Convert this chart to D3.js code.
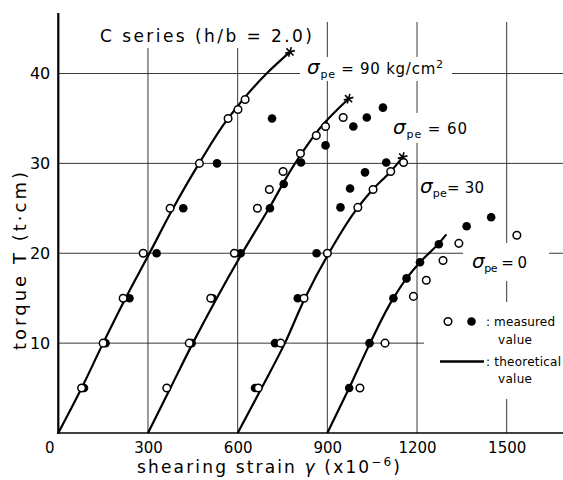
<!DOCTYPE html>
<html>
<head>
<meta charset="utf-8">
<script src="https://cdn.jsdelivr.net/npm/d3@7"></script>
<style>
body { margin: 0; background: #fff; }
svg { display: block; font-family: "DejaVu Sans", sans-serif; }
</style>
</head>
<body>
<div id="chart"></div>
<script>
const width = 563;
const height = 480;

// theoretical curves, [shearing strain (x10^-6), torque (t·cm)]
const theory90 = [[0, 0], [78, 5], [150, 10], [225, 15], [305, 20], [384, 25], [471, 30], [568, 35], [697, 40], [775, 42.4]];
const theory60 = [[300, 0], [375, 5], [450, 10], [530, 15], [615, 20], [705, 25], [792, 30], [890, 34.5], [971, 37.2]];
const theory30 = [[600, 0], [680, 5], [758, 10], [825, 15], [905, 20], [1000, 25], [1052, 27.1], [1112, 29.1], [1152, 30.7]];
const theory0 = [[900, 0], [973, 5], [1043, 10], [1121, 15], [1165, 17.2], [1210, 19], [1273, 21.1], [1298, 22.1]];

// measured values (open / filled circles)
const open90 = [[78, 5], [150, 10], [217, 15], [284, 20], [374, 25], [472, 30], [568, 35], [601, 36], [625, 37.1]];
const filled90 = [[86, 5], [158, 10], [238, 15], [329, 20], [418, 25], [531, 30], [715, 35]];
const open60 = [[363, 5], [438, 10], [510, 15], [589, 20], [666, 25], [706, 27.1], [752, 29.1], [810, 31.1], [863, 33.1], [894, 34.1], [953, 35.1]];
const filled60 = [[446, 10], [516, 15], [610, 20], [708, 25], [754, 27.7], [812, 30.1], [894, 32], [987, 34.1], [1032, 35.1], [1086, 36.2]];
const open30 = [[669, 5], [744, 10], [822, 15], [900, 20], [1002, 25.1], [1053, 27.1], [1112, 29.1], [1155, 30.1]];
const filled30 = [[658, 5], [725, 10], [801, 15], [864, 20], [944, 25.1], [976, 27.2], [1026, 29], [1097, 30.1]];
const open0 = [[1009, 5], [1093, 10], [1188, 15.2], [1231, 17], [1287, 19.2], [1340, 21.1], [1534, 22]];
const filled0 = [[973, 5], [1041, 10], [1121, 15], [1165, 17.2], [1210, 19], [1273, 21], [1366, 23], [1448, 24]];

const seriesValues = ["90", "60", "30", "0"];
const xTicks = [0, 300, 600, 900, 1200, 1500];
const yTicks = [10, 20, 30, 40];

const svg = d3.select("#chart")
    .append("svg")
    .attr("width", width)
    .attr("height", height);

const x = d3.scaleLinear().domain([0, 1500]).range([58.3, 506.7]);
const y = d3.scaleLinear().domain([0, 40]).range([433, 73.5]);

// grid
const grid = svg.append("g").attr("stroke", "#222").attr("stroke-width", 0.9);
grid.selectAll("line.h")
    .data(yTicks)
    .enter().append("line")
    .attr("class", "h")
    .attr("x1", x(0)).attr("x2", width)
    .attr("y1", d => y(d)).attr("y2", d => y(d));
grid.selectAll("line.v")
    .data(xTicks.slice(1))
    .enter().append("line")
    .attr("class", "v")
    .attr("x1", d => x(d)).attr("x2", d => x(d))
    .attr("y1", y(0)).attr("y2", 22);

// white gaps in the grid behind the labels
const gaps = [[95, 20, 226, 28], [300, 57, 152, 24], [386, 113, 86, 30], [463, 243, 86, 38], [424, 302, 139, 97]];
svg.append("g").selectAll("rect")
    .data(gaps)
    .enter().append("rect")
    .attr("x", d => d[0]).attr("y", d => d[1])
    .attr("width", d => d[2]).attr("height", d => d[3])
    .attr("fill", "#fff");

// axes lines
svg.append("line")
    .attr("x1", x(0)).attr("x2", x(0))
    .attr("y1", y(0) + 1).attr("y2", 13)
    .attr("stroke", "#000").attr("stroke-width", 2.2);
svg.append("line")
    .attr("x1", x(0) - 1).attr("x2", width)
    .attr("y1", y(0)).attr("y2", y(0))
    .attr("stroke", "#000").attr("stroke-width", 1.6);

// tick labels
const xAxis = svg.append("g")
    .attr("transform", `translate(0,${y(0)})`)
    .call(d3.axisBottom(x).tickValues(xTicks).tickFormat(d3.format("d")).tickSize(0).tickPadding(9));
xAxis.select(".domain").remove();
xAxis.selectAll("text")
    .attr("font-size", 15).attr("font-family", "DejaVu Sans").attr("fill", "#000")
    .attr("dx", d => d === 0 ? -9 : 0);

const yAxis = svg.append("g")
    .attr("transform", `translate(${x(0)},0)`)
    .call(d3.axisLeft(y).tickValues(yTicks).tickSize(0).tickPadding(8));
yAxis.select(".domain").remove();
yAxis.selectAll("text")
    .attr("font-size", 16).attr("font-family", "DejaVu Sans").attr("fill", "#000");

// theoretical curves
const line = d3.line()
    .x(d => x(d[0]))
    .y(d => y(d[1]))
    .curve(d3.curveMonotoneY);

const curves = [theory90, theory60, theory30, theory0];
svg.append("g").selectAll("path")
    .data(curves)
    .enter().append("path")
    .attr("d", line)
    .attr("fill", "none")
    .attr("stroke", "#000")
    .attr("stroke-width", 2.2);

// end marks of the curves
const star = d3.symbol().type(d3.symbolAsterisk || d3.symbolCross).size(70);
svg.append("g").selectAll("path")
    .data(curves.slice(0, 3).map(c => c[c.length - 1]))
    .enter().append("path")
    .attr("d", star)
    .attr("transform", d => `translate(${x(d[0])},${y(d[1])}) rotate(15)`)
    .attr("fill", "none")
    .attr("stroke", "#000")
    .attr("stroke-width", 1.6);

// measured points
const filledAll = [].concat(filled90, filled60, filled30, filled0);
const openAll = [].concat(open90, open60, open30, open0);
svg.append("g").selectAll("circle")
    .data(filledAll)
    .enter().append("circle")
    .attr("cx", d => x(d[0])).attr("cy", d => y(d[1]))
    .attr("r", 4.3)
    .attr("fill", "#000");
svg.append("g").selectAll("circle")
    .data(openAll)
    .enter().append("circle")
    .attr("cx", d => x(d[0])).attr("cy", d => y(d[1]))
    .attr("r", 3.8)
    .attr("fill", "#fff")
    .attr("stroke", "#000")
    .attr("stroke-width", 1.5);

// series labels
const labelPos = [[307, 74, 136], [393, 134, 74], [420, 193, 64], [472, 268, 55]];
seriesValues.forEach((v, i) => {
    const [lx, ly, lw] = labelPos[i];
    const t = svg.append("text")
        .attr("x", lx).attr("y", ly)
        .attr("font-size", 15)
        .attr("textLength", lw)
        .attr("lengthAdjust", "spacing");
    t.append("tspan").attr("font-size", 20).attr("font-style", "italic").text("σ");
    t.append("tspan").attr("font-size", 11).attr("dy", 4).text("pe");
    t.append("tspan").attr("dy", -4).text((i === 2 ? "= " : " = ") + v + (i === 0 ? " kg/cm" : ""));
    if (i === 0) t.append("tspan").attr("font-size", 11).attr("dy", -6).text("2");
});

// title
svg.append("text")
    .attr("x", 100).attr("y", 42)
    .attr("font-size", 17)
    .attr("textLength", 212)
    .attr("lengthAdjust", "spacing")
    .text("C series (h/b = 2.0)");

// axis titles
const xt = svg.append("text")
    .attr("x", 137).attr("y", 473)
    .attr("font-size", 17)
    .attr("textLength", 263)
    .attr("lengthAdjust", "spacing");
xt.append("tspan").text("shearing strain ");
xt.append("tspan").attr("font-style", "italic").text("γ");
xt.append("tspan").text(" (x10");
xt.append("tspan").attr("font-size", 12).attr("dy", -7).text("−6");
xt.append("tspan").attr("dy", 7).text(")");

svg.append("text")
    .attr("transform", "translate(25.5,350) rotate(-90)")
    .attr("font-size", 18)
    .attr("textLength", 178)
    .attr("lengthAdjust", "spacing")
    .text("torque T (t·cm)");

// legend
const legend = svg.append("g").attr("font-size", 12);
legend.append("circle").attr("cx", 448).attr("cy", 321.5).attr("r", 3.8)
    .attr("fill", "#fff").attr("stroke", "#000").attr("stroke-width", 1.5);
legend.append("circle").attr("cx", 471.5).attr("cy", 321.5).attr("r", 4.3).attr("fill", "#000");
legend.append("text").attr("x", 486).attr("y", 326)
    .attr("textLength", 69).attr("lengthAdjust", "spacing").text(": measured");
legend.append("text").attr("x", 498).attr("y", 344)
    .attr("textLength", 34).attr("lengthAdjust", "spacing").text("value");
legend.append("line").attr("x1", 440).attr("x2", 484).attr("y1", 361.5).attr("y2", 361.5)
    .attr("stroke", "#000").attr("stroke-width", 2.4);
legend.append("text").attr("x", 486).attr("y", 366)
    .attr("textLength", 75).attr("lengthAdjust", "spacing").text(": theoretical");
legend.append("text").attr("x", 498).attr("y", 383)
    .attr("textLength", 34).attr("lengthAdjust", "spacing").text("value");
</script>
</body>
</html>
